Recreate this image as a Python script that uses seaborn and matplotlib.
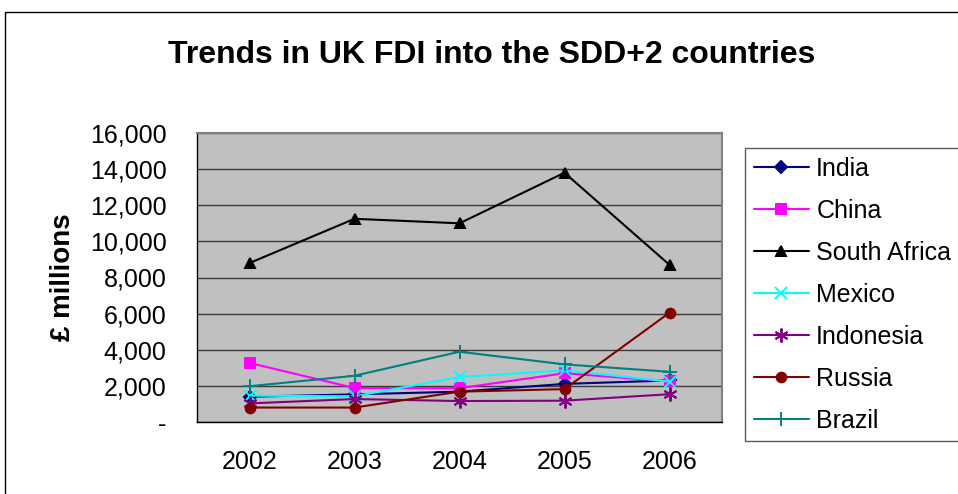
import matplotlib
matplotlib.use("Agg")
import matplotlib.pyplot as plt
import matplotlib.ticker as mticker
from matplotlib.patches import Rectangle
import seaborn as sns

# Data (GBP millions)
years = [2002, 2003, 2004, 2005, 2006]
india = [1400, 1530, 1680, 2110, 2300]
china = [3270, 1880, 1870, 2700, 2250]
south_africa = [8800, 11250, 11000, 13800, 8700]
mexico = [1460, 1420, 2490, 2860, 2240]
indonesia = [1030, 1270, 1160, 1180, 1540]
russia = [800, 800, 1680, 1820, 6050]
brazil = [1980, 2560, 3890, 3190, 2780]

series = [
    ("India", india, "#000080", "D", 6),
    ("China", china, "#FF00FF", "s", 7),
    ("South Africa", south_africa, "#000000", "^", 7),
    ("Mexico", mexico, "#00FFFF", "x", 8),
    ("Indonesia", indonesia, "#800080", (6, 2, 0), 10),
    ("Russia", russia, "#800000", "o", 7),
    ("Brazil", brazil, "#008080", "+", 10),
]

sns.set_style("white")
plt.rcParams["font.family"] = ["Liberation Sans", "DejaVu Sans"]
plt.rcParams["text.color"] = "black"
plt.rcParams["axes.labelcolor"] = "black"
plt.rcParams["xtick.color"] = "black"
plt.rcParams["ytick.color"] = "black"

fig = plt.figure(figsize=(9.58, 4.94), dpi=100)
ax = fig.add_axes([197 / 958, 1 - 422 / 494, (722 - 197) / 958, (422 - 133) / 494])
ax.set_facecolor("#C0C0C0")

for name, vals, col, mk, ms in series:
    sns.lineplot(x=years, y=vals, ax=ax, color=col, marker=mk, markersize=ms,
                 markeredgecolor=col, markerfacecolor=col, markeredgewidth=1.4,
                 linewidth=1.5, label=name)

ax.set_xlim(2001.5, 2006.5)
ax.set_ylim(0, 16000)
ax.set_yticks(range(0, 16001, 2000))
ax.yaxis.set_major_formatter(mticker.FuncFormatter(lambda v, p: "-" if v == 0 else f"{v:,.0f}"))
ax.set_xticks(years)
ax.set_xticks([2001.5 + i for i in range(6)], minor=True)
ax.tick_params(axis="x", which="major", length=0, pad=20, labelsize=18)
ax.tick_params(axis="x", which="minor", length=8, width=1, color="black", direction="out")
ax.tick_params(axis="y", length=8, width=1, color="black", direction="out", pad=14, labelsize=18)
ax.yaxis.grid(True, color="#3a3a3a", linewidth=1)
ax.set_axisbelow(True)
ax.set_xlabel("")
ax.set_ylabel("£ millions", fontsize=20, fontweight="bold", labelpad=10)

for side in ["top", "right"]:
    ax.spines[side].set_color("#808080")
    ax.spines[side].set_linewidth(1.5)
for side in ["left", "bottom"]:
    ax.spines[side].set_color("black")
    ax.spines[side].set_linewidth(1)

handles, labels = ax.get_legend_handles_labels()
ax.get_legend().remove()
leg = fig.legend(handles, labels, loc="upper left", bbox_to_anchor=(745 / 958, 1 - 148 / 494),
                 fontsize=18, frameon=True, fancybox=False, edgecolor="#333333",
                 handlelength=2.2, labelspacing=0.72, borderpad=0.35, handletextpad=0.3,
                 borderaxespad=0)
leg.get_frame().set_linewidth(1)

fig.text(0.513, 1 - 55 / 494, "Trends in UK FDI into the SDD+2 countries",
         ha="center", va="center", fontsize=23, fontweight="bold")

fig.patches.append(Rectangle((5 / 958, -0.1), 1.0, 1.1 - 12 / 494, transform=fig.transFigure,
                             fill=False, edgecolor="black", linewidth=1))

fig.savefig("out.png", dpi=100)
